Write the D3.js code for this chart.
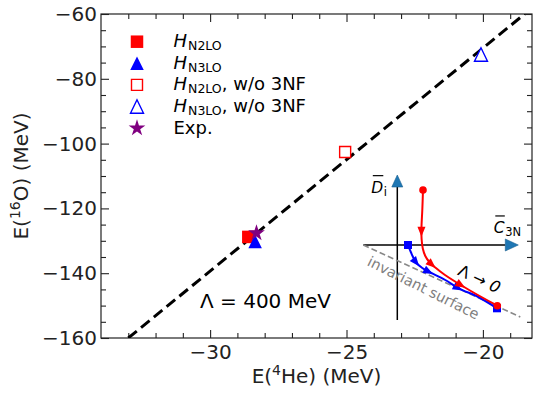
<!DOCTYPE html>
<html><head><meta charset="utf-8">
<script src="https://cdn.jsdelivr.net/npm/d3@7"></script>
<style>body{margin:0;background:#fff} svg{display:block} text{font-family:"DejaVu Sans",sans-serif}</style>
</head><body><svg id="c" width="535" height="395"></svg>
<script>
// ---- data ----
const seriesKeys = ["n2lo", "n3lo", "n2loNo3NF", "n3loNo3NF", "exp"];
const seriesMain = ["H", "H", "H", "H", "Exp."];
const seriesSub = ["N2LO", "N3LO", "N2LO", "N3LO", ""];
const seriesSuffix = ["", "", ", w/o 3NF", ", w/o 3NF", ""];
const he4Energy = [-28.6, -28.35, -25.05, -20.07, -28.30];
const o16Energy = [-128.8, -130.2, -102.6, -72.5, -127.62];
const fitHe4 = [-33.0, -18.47];
const fitO16 = [-160, -60];
const xMajorTicks = [-30, -25, -20];
const xMinorTicks = [-33, -32, -31, -29, -28, -27, -26, -24, -23, -22, -21, -19];
const yMajorTicks = [-160, -140, -120, -100, -80, -60];
const yMinorTicks = [-155, -150, -145, -135, -130, -125, -115, -110, -105, -95, -90, -85, -75, -70, -65];
// inset schematic (C3N, D_i) in arbitrary units
const invariantC = [-0.34, 1.23];
const invariantD = [0, -0.72];
const flowN2LOC = [0.257, 0.25, 0.242, 0.243, 0.255, 0.28, 0.32, 0.38, 0.477, 0.727, 1.0];
const flowN2LOD = [0.55, 0.35, 0.18, 0.06, -0.035, -0.11, -0.17, -0.225, -0.30, -0.455, -0.607];
const flowN3LOC = [0.107, 0.135, 0.187, 0.25, 0.313, 0.48, 0.613, 0.81, 0.997];
const flowN3LOD = [0, -0.07, -0.173, -0.23, -0.267, -0.35, -0.433, -0.52, -0.633];

// ---- layout ----
const svg = d3.select("#c");
const L = 101, R = 532, T = 14, B = 338;
const x = d3.scaleLinear().domain([-34, -18.2]).range([L, R]);
const y = d3.scaleLinear().domain([-160, -60]).range([B, T]);
const fmt = d3.format("d");

function axisG(axis, tx, ty) {
  const g = svg.append("g").attr("transform", `translate(${tx},${ty})`).call(axis);
  g.select(".domain").remove();
  g.selectAll(".tick line").attr("stroke", "#222").attr("stroke-width", 1.1);
  g.selectAll("text").attr("font-size", 20).attr("fill", "#222").attr("font-family", "DejaVu Sans");
  return g;
}
axisG(d3.axisBottom(x).tickValues(xMajorTicks).tickSize(-8).tickPadding(7).tickFormat(fmt), 0, B);
axisG(d3.axisBottom(x).tickValues(xMinorTicks).tickSize(-5).tickFormat(""), 0, B);
axisG(d3.axisTop(x).tickValues(xMajorTicks).tickSize(-8).tickFormat(""), 0, T);
axisG(d3.axisTop(x).tickValues(xMinorTicks).tickSize(-5).tickFormat(""), 0, T);
axisG(d3.axisLeft(y).tickValues(yMajorTicks).tickSize(-8).tickPadding(4).tickFormat(fmt), L, 0);
axisG(d3.axisLeft(y).tickValues(yMinorTicks).tickSize(-5).tickFormat(""), L, 0);
axisG(d3.axisRight(y).tickValues(yMajorTicks).tickSize(-8).tickFormat(""), R, 0);
axisG(d3.axisRight(y).tickValues(yMinorTicks).tickSize(-5).tickFormat(""), R, 0);

svg.append("rect").attr("x", L).attr("y", T).attr("width", R - L).attr("height", B - T)
  .attr("fill", "none").attr("stroke", "#222").attr("stroke-width", 1.2);

// axis labels
const xl = svg.append("text").attr("x", (L + R) / 2).attr("y", 383).attr("text-anchor", "middle")
  .attr("font-size", 20).attr("fill", "#222");
xl.append("tspan").text("E(");
xl.append("tspan").attr("font-size", 14).attr("dy", -8).text("4");
xl.append("tspan").attr("dy", 8).text("He) (MeV)");
const yl = svg.append("text").attr("transform", `translate(28,${(T + B) / 2}) rotate(-90)`)
  .attr("text-anchor", "middle").attr("font-size", 20).attr("fill", "#222");
yl.append("tspan").text("E(");
yl.append("tspan").attr("font-size", 14).attr("dy", -8).text("16");
yl.append("tspan").attr("dy", 8).text("O) (MeV)");

// clip
svg.append("clipPath").attr("id", "pc").append("rect").attr("x", L).attr("y", T).attr("width", R - L).attr("height", B - T);

// fit line
svg.append("line").attr("clip-path", "url(#pc)")
  .attr("x1", x(fitHe4[0])).attr("y1", y(fitO16[0])).attr("x2", x(fitHe4[1])).attr("y2", y(fitO16[1]))
  .attr("stroke", "#000").attr("stroke-width", 3).attr("stroke-dasharray", "11,5.5");

// markers
function starPath(Rr) {
  const p = [];
  for (let i = 0; i < 10; i++) {
    const a = (-90 + i * 36) * Math.PI / 180, r = i % 2 ? Rr * 0.382 : Rr;
    p.push([r * Math.cos(a), r * Math.sin(a)]);
  }
  return "M" + p.map(d => d.join(",")).join("L") + "Z";
}
function triPath(w, h) { return `M0,${-h / 2}L${-w / 2},${h / 2}L${w / 2},${h / 2}Z`; }
function sqPath(s) { return `M${-s / 2},${-s / 2}h${s}v${s}h${-s}Z`; }
const style = {
  n2lo: { d: sqPath(12.5), fill: "#ff0000", stroke: "none", sw: 0 },
  n3lo: { d: triPath(13.5, 13.5), fill: "#0000ff", stroke: "none", sw: 0 },
  n2loNo3NF: { d: sqPath(11), fill: "#fff", stroke: "#ff0000", sw: 1.4 },
  n3loNo3NF: { d: triPath(13, 13.5), fill: "#fff", stroke: "#0000ff", sw: 1.4 },
  exp: { d: starPath(8.8), fill: "#800080", stroke: "none", sw: 0 }
};
const drawOrder = [2, 3, 0, 1, 4];
drawOrder.forEach(i => {
  const s = style[seriesKeys[i]];
  svg.append("path").attr("d", s.d).attr("transform", `translate(${x(he4Energy[i])},${y(o16Energy[i])})`)
    .attr("fill", s.fill).attr("stroke", s.stroke).attr("stroke-width", s.sw);
});

// legend
seriesKeys.forEach((k, i) => {
  const cy = 41.7 + i * 21.6;
  const s = style[k];
  svg.append("path").attr("d", s.d).attr("transform", `translate(137,${cy})`)
    .attr("fill", s.fill).attr("stroke", s.stroke).attr("stroke-width", s.sw);
  const t = svg.append("text").attr("x", 173.5).attr("y", cy + 5.5).attr("font-size", 18).attr("fill", "#000");
  if (seriesSub[i]) {
    t.append("tspan").attr("font-style", "italic").text(seriesMain[i]);
    t.append("tspan").attr("font-size", 12.5).attr("dy", 3).attr("dx", 1).text(seriesSub[i]);
    if (seriesSuffix[i]) t.append("tspan").attr("dy", -3).text(seriesSuffix[i]);
  } else t.text(seriesMain[i]);
});

// Lambda label
svg.append("text").attr("x", 200).attr("y", 308.3).attr("font-size", 20).attr("fill", "#000").text("Λ = 400 MeV");

// ---- inset ----
const ix = d3.scaleLinear().domain([0, 1]).range([397.3, 497.3]);
const iy = d3.scaleLinear().domain([0, 1]).range([245, 145]);
const g = svg.append("g");
// axes
g.append("line").attr("x1", ix(-0.34)).attr("y1", iy(0)).attr("x2", ix(1.08)).attr("y2", iy(0)).attr("stroke", "#000").attr("stroke-width", 1.5);
g.append("line").attr("x1", ix(0)).attr("y1", iy(-0.75)).attr("x2", ix(0)).attr("y2", iy(0.58)).attr("stroke", "#000").attr("stroke-width", 1.5);
g.append("path").attr("d", `M${ix(1.21)},${iy(0)}L${ix(1.08)},${iy(0) - 6}L${ix(1.08)},${iy(0) + 6}Z`).attr("fill", "#1f77b4").attr("stroke", "#1a5f8f").attr("stroke-width", 0.6);
g.append("path").attr("d", `M${ix(0)},${iy(0.70)}L${ix(0) - 5.5},${iy(0.58)}L${ix(0) + 5.5},${iy(0.58)}Z`).attr("fill", "#1f77b4").attr("stroke", "#1a5f8f").attr("stroke-width", 0.6);
// invariant surface
g.append("line").attr("x1", ix(invariantC[0])).attr("y1", iy(invariantD[0])).attr("x2", ix(invariantC[1])).attr("y2", iy(invariantD[1]))
  .attr("stroke", "#888").attr("stroke-width", 1.5).attr("stroke-dasharray", "6,3");
g.append("text").attr("transform", `translate(${ix(-0.31)},${iy(-0.20)}) rotate(26.5)`).attr("font-size", 14.5)
  .attr("fill", "#808080").text("invariant surface");
// labels
function overlined(xp, yp, main, sub, fs, sfs) {
  const t = g.append("text").attr("x", xp).attr("y", yp).attr("font-size", fs).attr("font-style", "italic").text(main);
  const bb = t.node().getBBox();
  g.append("line").attr("x1", bb.x + 1.5).attr("x2", bb.x + bb.width).attr("y1", yp - fs * 1.1).attr("y2", yp - fs * 1.1).attr("stroke", "#000").attr("stroke-width", 1.2);
  g.append("text").attr("x", bb.x + bb.width + 0.5).attr("y", yp + 3).attr("font-size", sfs).text(sub);
}
overlined(ix(-0.26), iy(0.523), "D", "i", 15.5, 11.5);
overlined(ix(0.965), iy(0.12), "C", "3N", 15.5, 11.5);
const lt = g.append("text").attr("transform", `translate(${477},${284}) rotate(25)`).attr("text-anchor", "middle").attr("font-size", 16);
lt.append("tspan").text("Λ → ");
lt.append("tspan").attr("font-style", "italic").text("0");

// flows
const line = d3.line().x(d => ix(d[0])).y(d => iy(d[1])).curve(d3.curveCatmullRom.alpha(0.5));
function flow(cs, ds, color, fracs) {
  const pts = cs.map((c, i) => [c, ds[i]]);
  const p = g.append("path").attr("d", line(pts)).attr("fill", "none").attr("stroke", color).attr("stroke-width", 2);
  const n = p.node(), len = n.getTotalLength();
  fracs.forEach(f => {
    const a = n.getPointAtLength(len * f), b = n.getPointAtLength(len * f + 1);
    const ang = Math.atan2(b.y - a.y, b.x - a.x) * 180 / Math.PI;
    g.append("path").attr("d", "M5,0L-5,-4L-5,4Z").attr("fill", color)
      .attr("transform", `translate(${a.x},${a.y}) rotate(${ang})`);
  });
  return pts;
}
const bp = flow(flowN3LOC, flowN3LOD, "#0000ff", [0.17, 0.31, 0.61]);
g.append("path").attr("d", sqPath(8)).attr("fill", "#0000ff").attr("transform", `translate(${ix(bp[0][0])},${iy(bp[0][1])})`);
g.append("path").attr("d", sqPath(8)).attr("fill", "#0000ff").attr("transform", `translate(${ix(bp[bp.length - 1][0])},${iy(bp[bp.length - 1][1])})`);
const rp = flow(flowN2LOC, flowN2LOD, "#ff0000", [0.27, 0.5, 0.73]);
g.append("circle").attr("r", 3.8).attr("fill", "#ff0000").attr("cx", ix(rp[0][0])).attr("cy", iy(rp[0][1]));
g.append("circle").attr("r", 3.8).attr("fill", "#ff0000").attr("cx", ix(rp[rp.length - 1][0])).attr("cy", iy(rp[rp.length - 1][1]));
</script></body></html>
